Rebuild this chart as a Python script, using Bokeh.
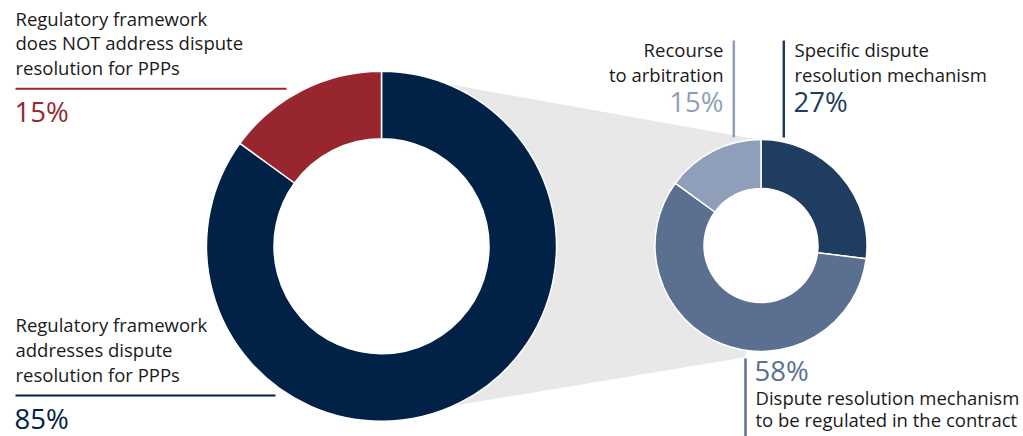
import math
from bokeh.plotting import figure
from bokeh.models import Range1d, ColumnDataSource
from bokeh.core.properties import value
from bokeh.embed import file_html
from bokeh.resources import INLINE

# ---------------- data ----------------
main_labels = ["Regulatory framework addresses dispute resolution for PPPs",
               "Regulatory framework does NOT address dispute resolution for PPPs"]
main_values = [85, 15]
main_colors = ["#012147", "#98262f"]

sub_labels = ["Specific dispute resolution mechanism",
              "Dispute resolution mechanism to be regulated in the contract",
              "Recourse to arbitration"]
sub_values = [27, 58, 15]
sub_colors = ["#1f3d60", "#5b6f91", "#8f9fb9"]

FONT = "Open Sans"
W, H = 1023, 436


def Y(py):
    # page pixel (y down) -> data y (up)
    return H - py


p = figure(width=W, height=H, x_range=Range1d(0, W), y_range=Range1d(0, H),
           output_backend="svg", toolbar_location=None, min_border=0,
           outline_line_color=None, background_fill_color="white")
p.axis.visible = False
p.grid.visible = False

# geometry (layout)
BX, BY, BR_OUT, BR_IN = 381, Y(245.7), 175, 107.5
SX, SY, SR_OUT, SR_IN = 760.5, Y(245), 106, 57


def pt(cx, cy, r, deg):
    a = math.radians(deg)
    return cx + r * math.sin(a), cy + r * math.cos(a)


# grey connector
c1 = pt(BX, BY, BR_OUT, 21.8)
c2 = pt(SX, SY, SR_OUT, -2)
c3 = pt(SX, SY, SR_OUT * 1.065, 188)
c4 = pt(BX, BY, BR_OUT, 155.7)
p.patch([c1[0], c2[0], c3[0], c4[0], BX], [c1[1], c2[1], c3[1], c4[1], BY],
        fill_color="#e8e8e8", line_color=None)

# holes
p.circle([BX, SX], [BY, SY], radius=[BR_IN, SR_IN], fill_color="white", line_color=None)


def donut(cx, cy, rin, rout, vals, cols):
    total = sum(vals)
    starts, ends = [], []
    cum = 0
    for v in vals:
        starts.append(math.pi / 2 - 2 * math.pi * cum / total)
        cum += v
        ends.append(math.pi / 2 - 2 * math.pi * cum / total)
    src = ColumnDataSource(dict(x=[cx] * len(vals), y=[cy] * len(vals),
                                s=starts, e=ends, c=cols))
    p.annular_wedge(x="x", y="y", inner_radius=rin, outer_radius=rout,
                    start_angle="s", end_angle="e", direction="clock",
                    fill_color="c", line_color="white", line_width=1.5, source=src)


donut(BX, BY, BR_IN, BR_OUT, main_values, main_colors)
donut(SX, SY, SR_IN, SR_OUT, sub_values, sub_colors)

LABEL_COLOR = "#1a1a1a"
LS = 18.5
PS = 27.5


def txt(x, py, s, size, color, align="left"):
    # py: wanted baseline (page px); correct for renderer's baseline shift
    p.text(x=[x], y=[Y(py) + 0.44 * size], text=[s], text_font=value(FONT),
           text_font_size=f"{size}px", text_color=color, text_align=align,
           text_baseline="alphabetic")


# top-left: NOT address (15%)
for i, line in enumerate(["Regulatory framework", "does NOT address dispute", "resolution for PPPs"]):
    txt(15, 26 + 24.6 * i, line, LS, LABEL_COLOR)
p.segment(x0=[15], y0=[Y(88.3)], x1=[286], y1=[Y(88.3)], line_color=main_colors[1], line_width=2)
txt(14, 123.5, f"{main_values[1]}%", PS, main_colors[1])

# bottom-left: addresses (85%)
for i, line in enumerate(["Regulatory framework", "addresses dispute", "resolution for PPPs"]):
    txt(15, 331.7 + 25 * i, line, LS, LABEL_COLOR)
p.segment(x0=[15], y0=[Y(395)], x1=[275], y1=[Y(395)], line_color=main_colors[0], line_width=2)
txt(14, 430, f"{main_values[0]}%", PS, main_colors[0])

# top-right: recourse to arbitration (15%)
p.segment(x0=[733.3], y0=[Y(40)], x1=[733.3], y1=[Y(137)], line_color=sub_colors[2], line_width=2.5)
txt(723, 56.7, "Recourse", LS, LABEL_COLOR, "right")
txt(723, 81.7, "to arbitration", LS, LABEL_COLOR, "right")
txt(723, 113, f"{sub_values[2]}%", PS, sub_colors[2], "right")

# top-right: specific mechanism (27%)
p.segment(x0=[783.3], y0=[Y(40)], x1=[783.3], y1=[Y(137)], line_color=sub_colors[0], line_width=2.5)
txt(794, 56.7, "Specific dispute", LS, LABEL_COLOR)
txt(794, 81.7, "resolution mechanism", LS, LABEL_COLOR)
txt(793, 113, f"{sub_values[0]}%", PS, sub_colors[0])

# bottom-right: regulated in the contract (58%)
p.segment(x0=[745], y0=[Y(358)], x1=[745], y1=[Y(440)], line_color=sub_colors[1], line_width=2.5)
txt(754, 382, f"{sub_values[1]}%", PS, sub_colors[1])
txt(755, 405, "Dispute resolution mechanism", LS, LABEL_COLOR)
txt(755, 427, "to be regulated in the contract", LS, LABEL_COLOR)

open("out.html", "w").write(file_html(p, INLINE))
